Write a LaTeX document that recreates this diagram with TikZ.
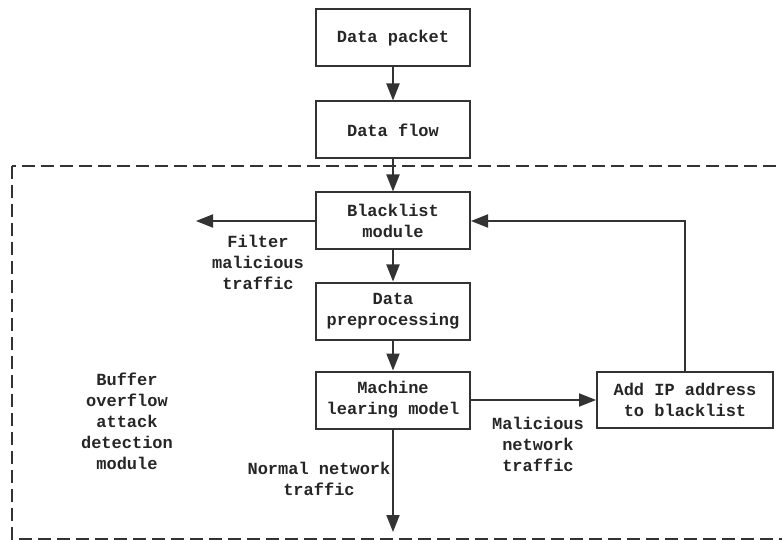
\documentclass[tikz,border=0pt]{standalone}
\usepackage{fontspec}
\setmonofont{Liberation Mono}
\usetikzlibrary{arrows.meta}

\begin{document}
\begin{tikzpicture}[x=1pt, y=-1pt, draw=black!80, text=black!85, >={Triangle[length=17pt,width=13pt]}]
	\tikzstyle{block}=[rectangle,draw=black!80,line width=2pt,minimum width=154pt,minimum height=57pt,inner sep=0pt,align=center,font=\ttfamily\bfseries\fontsize{17}{21}\selectfont]
	\tikzstyle{wide block}=[block, minimum width=176pt, minimum height=56pt]
	\tikzstyle{annot}=[align=center,inner sep=0pt,font=\ttfamily\bfseries\fontsize{17}{21}\selectfont]
	\tikzstyle{flow}=[->, line width=2pt]

	\useasboundingbox (0,0) rectangle (782,540);

	% Draw the detection module frame
	\draw[line width=2pt, dash pattern=on 13pt off 6pt] (12,166) rectangle (800,539);

	% Draw the input steps
	\node[block] (packet) at (393,38) {Data packet};
	\node[block] (dataflow) at (393,130) {Data flow};

	% Draw the module blocks
	\node[block] (blacklist) at (393,221) {Blacklist\\module};
	\node[block] (prep) at (393,311) {Data\\preprocessing};
	\node[block] (model) at (393,400) {Machine\\learing model};
	\node[wide block] (addip) at (685,400) {Add IP address\\to blacklist};

	% Free ends of the outgoing arrows
	\coordinate (filter_end) at (196,221);
	\coordinate (normal_end) at (393,532);

	% Draw arrows
	\path[flow] (packet) edge (dataflow);
	\path[flow] (dataflow) edge (blacklist);
	\path[flow] (blacklist) edge (prep);
	\path[flow] (prep) edge (model);
	\path[flow] (blacklist.west) edge (filter_end);
	\path[flow] (model) edge (normal_end);
	\path[flow] (model.east |- addip.west) edge (addip.west);
	\draw[flow] (addip.north) |- (blacklist.east);

	% Annotate the steps
	\node[annot] (filter) at (258,262) {Filter\\malicious\\traffic};
	\node[annot] (malicious) at (538,444) {Malicious\\network\\traffic};
	\node[annot] (normal) at (319,479) {Normal network\\traffic};
	\node[annot] (module) at (127,421) {Buffer\\overflow\\attack\\detection\\module};
\end{tikzpicture}
\end{document}
